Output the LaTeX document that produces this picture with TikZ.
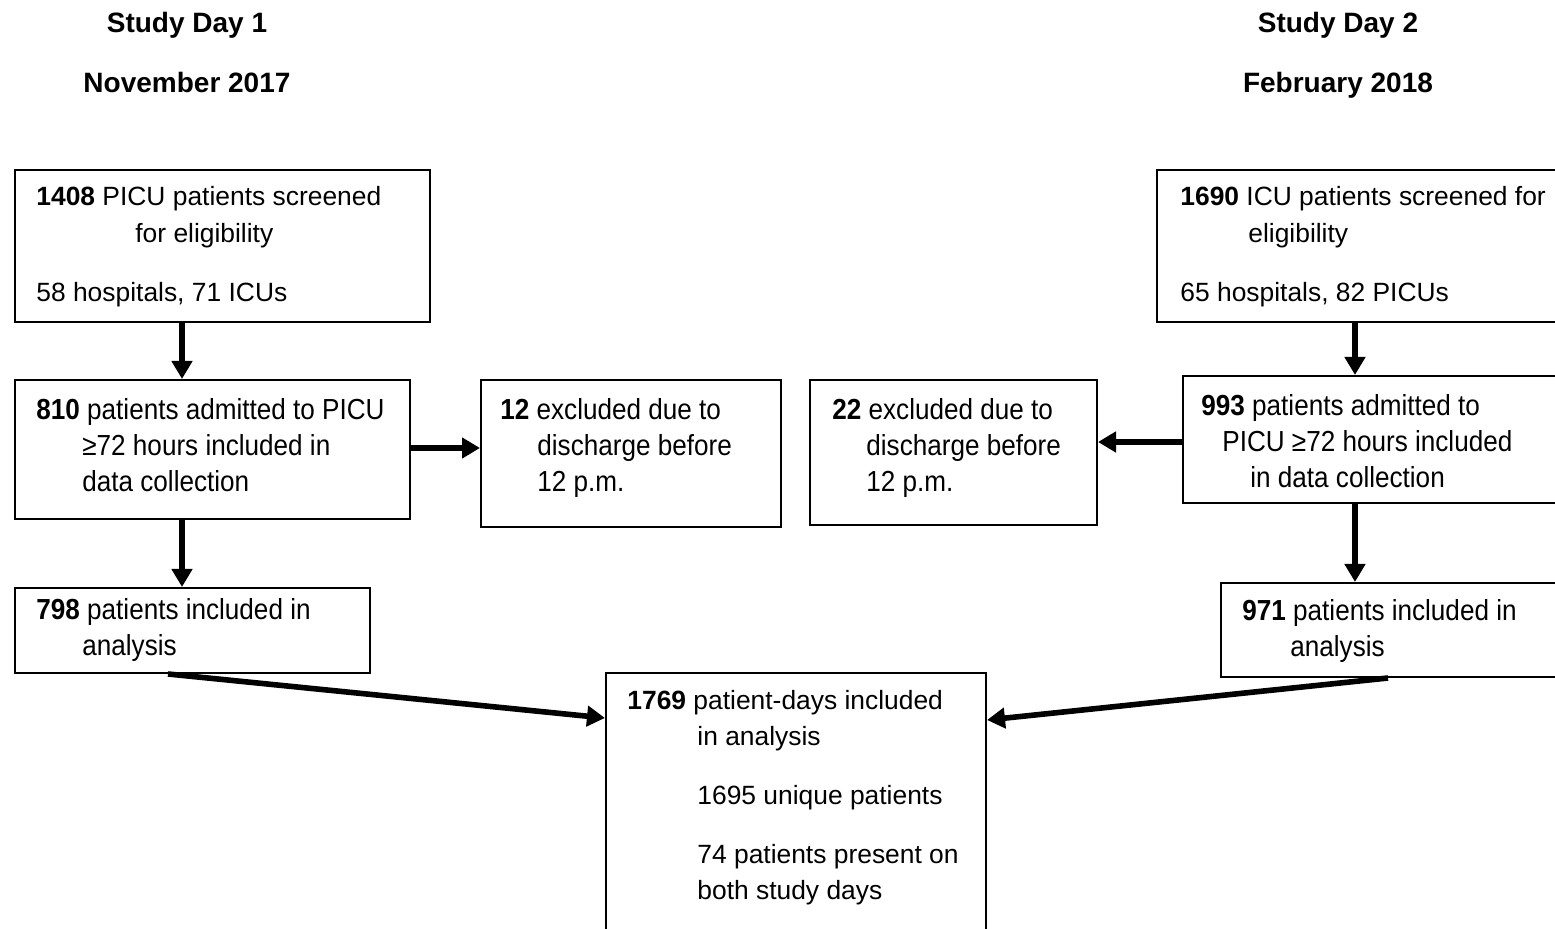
\documentclass[tikz,border=0pt]{standalone}
\usepackage{fontspec}
\setmainfont{Liberation Sans}
\newfontfamily\narrowfont[FakeStretch=0.9]{Liberation Sans}
\usetikzlibrary{arrows.meta,fit}
\begin{document}
\begin{tikzpicture}[x=0.5pt,y=-0.5pt,
  box/.style={draw, line width=1pt, inner sep=0pt},
  rtxt/.style={inner sep=0pt, anchor=base west, align=left, font=\fontsize{13.2}{18.5}\selectfont},
  etxt/.style={inner sep=0pt, anchor=base west, align=left, font=\fontsize{13.2}{18}\selectfont},
  ntxt/.style={inner sep=0pt, anchor=base west, align=left, font=\narrowfont\fontsize{14.5}{18}\selectfont},
  hdr/.style={inner sep=0pt, anchor=base, font=\bfseries\fontsize{14}{16}\selectfont},
  arr/.style={line width=2.8pt, -{Triangle[length=9pt,width=10pt]}}]
\path[use as bounding box, fill=white] (0,0) rectangle (1555,929);

% headers
\node[hdr] (h1) at (187,33) {Study Day 1};
\node[hdr] (h2) at (187,93) {November 2017};
\node[hdr] (h3) at (1338,33) {Study Day 2};
\node[hdr] (h4) at (1338,93) {February 2018};

% boxes
\node[box, fit={(15,170) (430,322)}] (A) {};
\node[box, fit={(15,380) (410,519)}] (B) {};
\node[box, fit={(481,380) (781,527)}] (C) {};
\node[box, fit={(15,588) (370,673)}] (D) {};
\node[box, fit={(606,673) (986,945)}] (E) {};
\node[box, fit={(1157,170) (1570,322)}] (F) {};
\node[box, fit={(1183,376) (1570,503)}] (G) {};
\node[box, fit={(810,380) (1097,525)}] (H) {};
\node[box, fit={(1221,583) (1570,677)}] (I) {};

% texts (anchored at the baseline of the last line)
\node[rtxt] (tA) at (36,302) {\textbf{1408} PICU patients screened\\\hspace*{49.5pt}for eligibility\\[11pt]58 hospitals, 71 ICUs};
\node[ntxt] (tB) at (36,492) {\textbf{810} patients admitted to PICU\\\hspace*{23pt}≥72 hours included in\\\hspace*{23pt}data collection};
\node[ntxt] (tC) at (500,492) {\textbf{12} excluded due to\\\hspace*{18.5pt}discharge before\\\hspace*{18.5pt}12 p.m.};
\node[ntxt] (tD) at (36,656) {\textbf{798} patients included in\\\hspace*{23pt}analysis};
\node[etxt] (tE) at (627,900) {\textbf{1769} patient-days included\\\hspace*{35pt}in analysis\\[11.5pt]\hspace*{35pt}1695 unique patients\\[11.5pt]\hspace*{35pt}74 patients present on\\\hspace*{35pt}both study days};
\node[rtxt] (tF) at (1180,302) {\textbf{1690} ICU patients screened for\\\hspace*{34pt}eligibility\\[11pt]65 hospitals, 82 PICUs};
\node[ntxt] (tG) at (1201,488) {\textbf{993} patients admitted to\\\hspace*{10.5pt}PICU ≥72 hours included\\\hspace*{24.5pt}in data collection};
\node[ntxt] (tH) at (832,492) {\textbf{22} excluded due to\\\hspace*{17pt}discharge before\\\hspace*{17pt}12 p.m.};
\node[ntxt] (tI) at (1242,657) {\textbf{971} patients included in\\\hspace*{24pt}analysis};

% helper coordinates
\coordinate (xL) at (182,0);
\coordinate (xR) at (1355,0);
\coordinate (xD) at (168,0);
\coordinate (xI) at (1388,0);
\coordinate (yBC) at (0,448);
\coordinate (yGH) at (0,442);
\coordinate (yDE) at (0,718);
\coordinate (yIE) at (0,720);

% arrows
\draw[arr] (A.south -| xL) -- (B.north -| xL);
\draw[arr] (B.south -| xL) -- (D.north -| xL);
\draw[arr] (B.east |- yBC) -- (C.west |- yBC);
\draw[arr] (F.south -| xR) -- (G.north -| xR);
\draw[arr] (G.south -| xR) -- (I.north -| xR);
\draw[arr] (G.west |- yGH) -- (H.east |- yGH);
\draw[arr] (D.south -| xD) -- (E.west |- yDE);
\draw[arr] (I.south -| xI) -- (E.east |- yIE);
\end{tikzpicture}
\end{document}
